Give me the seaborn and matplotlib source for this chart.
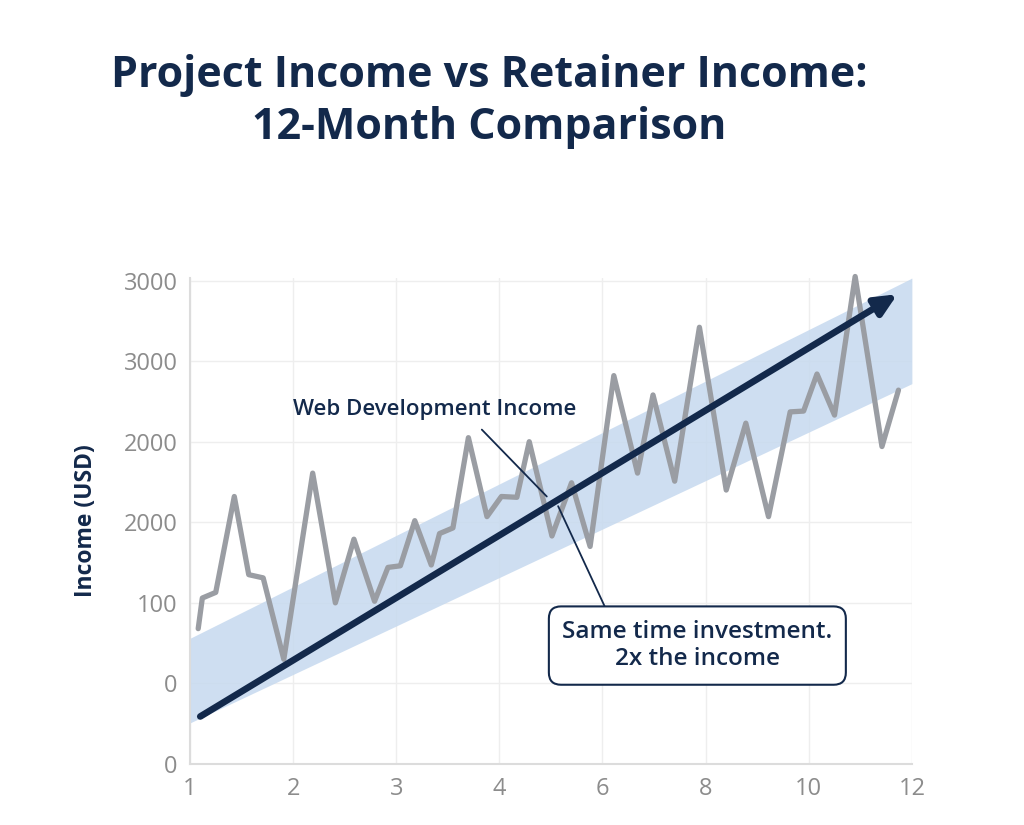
import matplotlib
matplotlib.use("Agg")
import matplotlib.pyplot as plt
import seaborn as sns
import pandas as pd

# monthly project income trace (axis units)
project_x = [0.08, 0.12, 0.25, 0.43, 0.57, 0.71, 0.91, 1.19, 1.41, 1.59, 1.79, 1.92,
             2.04, 2.18, 2.34, 2.42, 2.55, 2.70, 2.88, 3.02, 3.17, 3.29, 3.51, 3.70,
             3.88, 4.11, 4.34, 4.49, 4.70, 4.94, 5.20, 5.39, 5.61, 5.82, 5.95, 6.08,
             6.25, 6.45, 6.71, 6.87]
project_y = [1.68, 2.06, 2.13, 3.32, 2.35, 2.31, 1.30, 3.61, 2.00, 2.79, 2.02, 2.44,
             2.46, 3.02, 2.47, 2.86, 2.93, 4.05, 3.07, 3.32, 3.31, 4.00, 2.83, 3.49,
             2.70, 4.82, 3.61, 4.58, 3.51, 5.42, 3.40, 4.23, 3.07, 4.37, 4.38, 4.84,
             4.33, 6.05, 3.94, 4.64]

# retainer trend band and arrow
band_x = [0.0, 7.0]
band_low = [0.51, 4.72]
band_high = [1.56, 6.03]
trend_start = (0.10, 0.59)
trend_end = (6.86, 5.83)

xtick_labels = ["1", "2", "3", "4", "6", "8", "10", "12"]
ytick_labels = ["0", "0", "100", "2000", "2000", "3000", "3000"]

navy = "#13294b"

sns.set_style("whitegrid")
plt.rcParams["font.family"] = ["Open Sans", "DejaVu Sans"]

fig = plt.figure(figsize=(10.24, 8.25), dpi=100)
ax = fig.add_axes([0.1855, 0.0739, 0.705, 0.589])

ax.fill_between(band_x, band_low, band_high, color="#c6d9ef", alpha=0.85, lw=0, zorder=1)

df = pd.DataFrame({"x": project_x, "y": project_y})
sns.lineplot(data=df, x="x", y="y", ax=ax, color="#9a9da3", lw=3.8, zorder=2,
             clip_on=False)

ax.annotate("", xy=trend_end, xytext=trend_start, zorder=3,
            arrowprops=dict(arrowstyle="-|>,head_length=1.3,head_width=0.6",
                            color=navy, lw=4.8, shrinkA=0, shrinkB=0))

ax.set_xlim(0, 7)
ax.set_ylim(0, 6.03)
ax.set_xticks(range(len(xtick_labels)))
ax.set_xticklabels(xtick_labels)
ax.set_yticks(range(len(ytick_labels)))
ax.set_yticklabels(ytick_labels)
ax.tick_params(axis="both", colors="#8c8c8c", labelsize=17, length=0, pad=9)
ax.grid(color="#eeeeee", lw=1)
for side in ["top", "right"]:
    ax.spines[side].set_visible(False)
for side in ["left", "bottom"]:
    ax.spines[side].set_color("#dcdcdc")
    ax.spines[side].set_linewidth(1.5)

ax.set_xlabel("")
ax.set_ylabel("Income (USD)", fontsize=16.5, color=navy, fontweight="bold", labelpad=18)

# callouts
ax.text(2.37, 4.40, "Web Development Income", fontsize=16, color=navy,
        fontweight="semibold", ha="center", va="center", zorder=5)
ax.annotate("", xy=(3.46, 3.32), xytext=(2.83, 4.15),
            arrowprops=dict(arrowstyle="-", color=navy, lw=1.3, shrinkA=0, shrinkB=0))
ax.annotate("", xy=(3.57, 3.20), xytext=(4.02, 1.96),
            arrowprops=dict(arrowstyle="-", color=navy, lw=1.3, shrinkA=0, shrinkB=0))
ax.text(4.92, 1.47, "Same time investment.\n2x the income", fontsize=17.5, color=navy,
        fontweight="semibold", ha="center", va="center", linespacing=1.2, zorder=5,
        bbox=dict(boxstyle="round,pad=0.55,rounding_size=0.5", fc="white",
                  ec=navy, lw=1.5))

fig.text(0.478, 0.877, "Project Income vs Retainer Income:\n12-Month Comparison",
         ha="center", va="center", fontsize=31, fontweight="bold", color=navy,
         linespacing=1.25)

fig.savefig("out.png", dpi=100, facecolor="white")
